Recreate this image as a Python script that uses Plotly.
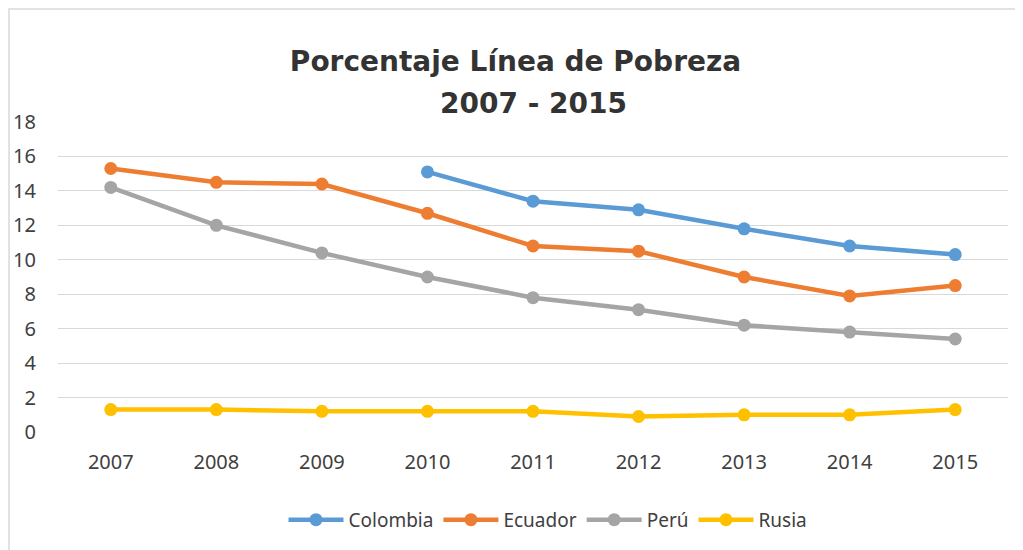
import plotly.graph_objects as go

years = ["2007", "2008", "2009", "2010", "2011", "2012", "2013", "2014", "2015"]
colombia = [None, None, None, 15.1, 13.4, 12.9, 11.8, 10.8, 10.3]
ecuador = [15.3, 14.5, 14.4, 12.7, 10.8, 10.5, 9.0, 7.9, 8.5]
peru = [14.2, 12.0, 10.4, 9.0, 7.8, 7.1, 6.2, 5.8, 5.4]
rusia = [1.3, 1.3, 1.2, 1.2, 1.2, 0.9, 1.0, 1.0, 1.3]
y_ticks = [0, 2, 4, 6, 8, 10, 12, 14, 16, 18]

series = [
    ("Colombia", colombia, "#5B9BD5"),
    ("Ecuador", ecuador, "#ED7D31"),
    ("Perú", peru, "#A5A5A5"),
    ("Rusia", rusia, "#FFC000"),
]

fig = go.Figure()
for name, vals, color in series:
    fig.add_trace(go.Scatter(
        x=years, y=vals, name=name, mode="lines+markers",
        line=dict(color=color, width=4.5),
        marker=dict(color=color, size=13),
        connectgaps=False,
    ))

W, H = 1015, 542
L, R, T, B = 50, 15, 114, 118
pw, ph = W - L - R, H - T - B
fig.update_layout(
    width=W, height=H,
    margin=dict(l=L, r=R, t=T, b=B, autoexpand=False),
    paper_bgcolor="white", plot_bgcolor="white",
    title=dict(
        text="Porcentaje Línea de Pobreza",
        x=0.5, xanchor="center", y=1 - 43 / H, yanchor="top",
        font=dict(family="DejaVu Sans", size=28, color="#333333", weight="bold"),
    ),
    font=dict(family="Noto Sans", size=20, color="#404040"),
    xaxis=dict(
        type="category", range=[-0.5, 8.5], showgrid=False, showline=False,
        ticks="", tickfont=dict(size=20, color="#404040"), ticklabelstandoff=16,
        automargin=False,
    ),
    yaxis=dict(
        range=[0, 18], tickvals=y_ticks, showgrid=True, gridcolor="#D9D9D9",
        gridwidth=1, zeroline=False, showline=False, ticks="",
        tickfont=dict(size=20, color="#404040"), ticklabelstandoff=21,
        automargin=False,
    ),
    legend=dict(
        orientation="h", x=0.5 + 15 / pw, xanchor="center", y=-0.235 + 4 / ph, yanchor="top",
        font=dict(size=19, color="#404040"), itemwidth=55,
    ),
    showlegend=True,
)

# second title line
fig.add_annotation(
    text="2007 - 2015", xref="paper", yref="paper",
    x=0.5, xanchor="center", y=1 + (T - 95) / ph, yanchor="middle",
    showarrow=False,
    font=dict(family="DejaVu Sans", size=28, color="#333333", weight="bold"),
)

fig.add_shape(type="rect", xref="paper", yref="paper",
              x0=(-L + 1) / pw, x1=1 + (R + 20) / pw, y0=-(B + 20) / ph, y1=1 + (T - 1) / ph,
              line=dict(color="#D9D9D9", width=1.5), layer="below")

fig.write_html("out.html")
